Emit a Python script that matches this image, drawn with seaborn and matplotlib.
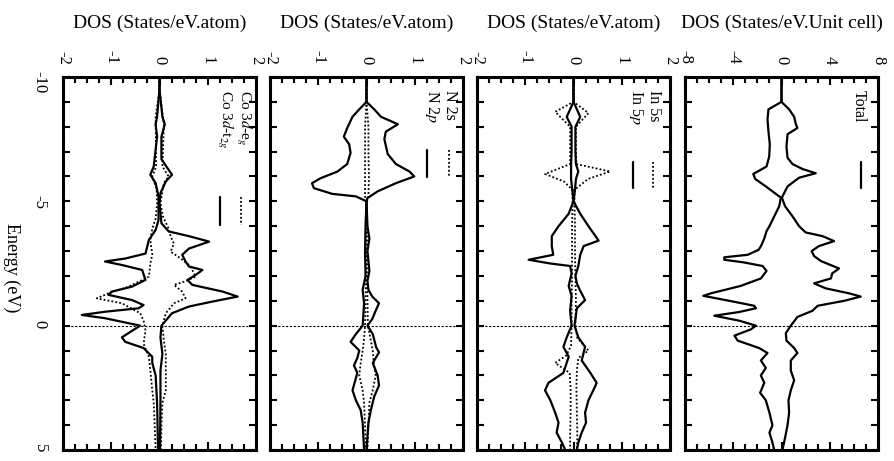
import numpy as np
import matplotlib
matplotlib.use('Agg')
import matplotlib.pyplot as plt
from matplotlib.ticker import MultipleLocator
import seaborn as sns

# ---- Total DOS (states/eV unit cell) ----
E_tot_up = [-10, -9.0, -8.7, -8.4, -8.1, -7.95, -7.7, -7.2, -6.75, -6.5, -6.3, -6.13, -5.95, -5.6, -5.15,
            -4.8, -4.4, -4.0, -3.75, -3.6, -3.4, -3.2, -3.0, -2.8, -2.6, -2.3, -2.1, -1.9, -1.7, -1.5,
            -1.3, -1.17, -1.0, -0.8, -0.6, -0.35, 0.0, 0.3, 0.6, 0.9, 1.1, 1.4, 1.8, 2.2, 2.6, 3.0, 3.5,
            4.0, 4.5, 5.0]
tot_up = [0, 0, 0.63, 1.05, 1.19, 1.32, 0.5, 0.41, 0.5, 0.91, 1.74, 2.84, 1.46, 0.5, 0.03,
          0.3, 0.91, 1.46, 2.0, 3.4, 4.36, 3.1, 2.5, 2.7, 3.26, 4.77, 4.2, 4.1, 2.7, 3.67,
          5.6, 6.57, 5.2, 3.0, 2.57, 1.32, 0.77, 0.36, 0.41, 1.05, 1.32, 0.77, 0.77, 1.05, 0.77, 0.58, 0.63,
          0.5, 0.3, 0.08]
E_tot_dn = [-10, -9, -8.7, -8.3, -7.8, -7.3, -6.8, -6.4, -6.1, -5.9, -5.6, -5.3, -5.15, -4.8, -4.4,
            -4.0, -3.8, -3.5, -3.2, -3.05, -2.85, -2.75, -2.65, -2.55, -2.4, -2.2, -1.9, -1.6, -1.3, -1.2,
            -1.0, -0.8, -0.7, -0.55, -0.4, -0.2, 0.0, 0.15, 0.4, 0.6, 0.9, 1.1, 1.4, 1.7, 2.0, 2.3, 2.7,
            3.0, 3.5, 4.0, 4.3, 4.7, 5.0]
tot_dn = [0, 0, -1.08, -1.16, -1.08, -0.97, -1.02, -1.24, -2.34, -2.18, -1.3, -0.47, -0.05, -0.19, -0.6,
          -1.0, -1.24, -1.43, -1.7, -1.9, -2.8, -4.74, -4.74, -3.2, -1.57, -1.24, -1.71, -3.37, -5.85, -6.48,
          -4.33, -2.26, -2.12, -3.5, -5.57, -3.5, -2.12, -2.54, -3.9, -3.64, -1.85, -1.16, -1.71, -1.3, -1.71,
          -1.43, -1.77, -1.3, -1.0, -0.75, -1.0, -0.75, -0.6]

# ---- In PDOS ----
E_in5s_up = [-10, -9, -8.55, -8.0, -7.5, -7.0, -6.5, -6.2, -5.9, -5.46, -5.0, -4.0, -3.0, -2.0, -1.0,
             0.0, 0.5, 1.0, 1.3, 1.8, 2.5, 3.5, 4.5, 5.0]
in5s_up = [0, 0, 0.31, 0.05, 0.05, 0.05, 0.06, 0.76, 0.3, 0.02, 0.02, 0.03, 0.03, 0.04, 0.05,
           0.04, 0.08, 0.31, 0.1, 0.07, 0.06, 0.07, 0.08, 0.07]
E_in5s_dn = [-10, -9, -8.6, -8.0, -7.5, -7.0, -6.5, -6.1, -5.8, -5.46, -5.0, -4.0, -3.0, -2.0, -1.0,
             0.0, 0.8, 1.2, 1.5, 1.9, 2.5, 3.5, 4.5, 5.0]
in5s_dn = [0, 0, -0.38, -0.07, -0.07, -0.07, -0.07, -0.59, -0.2, -0.02, -0.02, -0.03, -0.03, -0.03, -0.04,
           -0.04, -0.05, -0.15, -0.38, -0.08, -0.06, -0.06, -0.07, -0.07]
E_in5p_up = [-10, -9, -8.4, -8.0, -7.0, -6.5, -6.2, -5.9, -5.46, -5.0, -4.5, -4.0, -3.7, -3.42, -3.2,
             -2.85, -2.4, -2.0, -1.7, -1.4, -1.03, -0.7, 0.0, 0.47, 0.85, 1.4, 1.9, 2.3, 2.6, 3.0,
             3.5, 3.9, 4.3, 4.7, 5.0]
in5p_up = [0, 0, 0.14, 0.04, 0.04, 0.05, 0.1, 0.05, 0.03, 0.0, 0.14, 0.31, 0.42, 0.52, 0.21,
           0.14, 0.1, 0.04, 0.07, 0.14, 0.24, 0.07, 0.02, 0.1, 0.24, 0.17, 0.35, 0.48, 0.41, 0.31,
           0.24, 0.26, 0.17, 0.1, 0.07]
E_in5p_dn = [-10, -9, -8.4, -8.0, -7.0, -6.5, -5.9, -5.0, -4.5, -4.0, -3.6, -3.2, -2.85, -2.65, -2.5,
             -2.4, -2.1, -1.6, -1.2, -0.6, 0.0, 0.47, 0.85, 1.25, 1.9, 2.3, 2.6, 3.0, 3.5, 3.9,
             4.3, 4.7, 5.0]
in5p_dn = [0, 0, -0.14, -0.04, -0.04, -0.05, -0.05, 0.0, -0.1, -0.31, -0.45, -0.45, -0.42, -0.93, -0.48,
           -0.07, -0.04, -0.1, -0.04, -0.07, -0.04, -0.14, -0.21, -0.1, -0.21, -0.52, -0.59, -0.48, -0.38, -0.31,
           -0.35, -0.24, -0.17]

# ---- N PDOS ----
E_n2s = [-10, -9, -8, -7, -6, -5.2, -5, -4, -3, -2, -1, 0, 0.5, 1.0, 1.5, 2.0, 2.6, 3.1, 4.0, 5.0]
n2s_up = [0, 0, 0.04, 0.04, 0.05, 0.04, 0.01, 0.01, 0.01, 0.01, 0.02, 0.03, 0.08, 0.13, 0.15, 0.19,
          0.13, 0.06, 0.04, 0.02]
n2s_dn = [0, 0, -0.03, -0.03, -0.03, -0.03, -0.01, -0.01, -0.01, -0.01, -0.02, -0.03, -0.05, -0.08,
          -0.12, -0.15, -0.08, -0.05, -0.03, -0.02]
E_n2p_up = [-10, -9, -8.7, -8.4, -8.1, -7.8, -7.5, -6.9, -6.5, -6.2, -6.0, -5.73, -5.4, -5.13, -5.0,
            -4.0, -3.5, -3.0, -2.2, -1.8, -1.44, -1.17, -0.9, -0.6, -0.27, 0.0, 0.34, 0.87, 1.07, 1.5,
            2.0, 2.4, 2.85, 3.4, 3.9, 5.0]
n2p_up = [0, 0, 0.16, 0.3, 0.65, 0.4, 0.37, 0.44, 0.61, 0.89, 0.99, 0.61, 0.23, 0.02, 0.0,
          0.02, 0.06, 0.02, 0.06, 0.02, 0.04, 0.12, 0.26, 0.19, 0.12, 0.02, 0.13, 0.2, 0.26, 0.13,
          0.23, 0.26, 0.16, 0.09, 0.04, 0.0]
E_n2p_dn = [-10, -9, -8.7, -8.4, -7.95, -7.6, -7.3, -6.95, -6.5, -6.2, -5.93, -5.73, -5.53, -5.3, -5.2,
            -5.0, -4.0, -3.0, -2.0, -1.44, -0.9, 0.0, 0.34, 0.65, 1.0, 1.3, 1.6, 1.9, 2.6, 3.0,
            3.4, 3.9, 5.0]
n2p_dn = [0, 0, -0.15, -0.29, -0.4, -0.47, -0.36, -0.33, -0.4, -0.6, -0.95, -1.13, -1.09, -0.71, -0.22,
          0.0, -0.02, -0.03, -0.02, -0.08, -0.05, -0.08, -0.22, -0.33, -0.15, -0.19, -0.26, -0.19, -0.29, -0.22,
          -0.12, -0.08, -0.05]

# ---- Co 3d PDOS ----
E_t2g_up = [-10, -9.5, -8.4, -8.1, -7.6, -6.7, -6.35, -6.07, -5.8, -5.33, -4.93, -4.12, -3.79, -3.6, -3.38,
            -3.1, -2.85, -2.58, -2.38, -2.24, -2.04, -1.84, -1.64, -1.37, -1.17, -0.97, -0.77, -0.5, 0.0, 0.47,
            1.14, 1.8, 3.0, 5.0]
t2g_up = [0, 0, 0.06, 0.11, 0.04, 0.04, 0.16, 0.26, 0.13, 0.02, 0.0, 0.04, 0.19, 0.61, 1.03,
          0.61, 0.47, 0.54, 0.61, 0.89, 0.75, 0.58, 0.68, 1.31, 1.62, 1.1, 0.61, 0.26, 0.04, 0.02,
          0.06, 0.02, 0.02, 0.01]
E_t2g_dn = [-10, -9.5, -8.4, -8.1, -7.6, -6.4, -6.07, -5.73, -5.2, -4.25, -3.85, -3.45, -2.9, -2.7, -2.58,
            -2.44, -2.24, -1.84, -1.57, -1.37, -1.24, -1.03, -0.83, -0.7, -0.56, -0.43, -0.3, 0.0, 0.17, 0.47,
            0.65, 0.9, 1.25, 1.5, 2.0, 3.1, 5.0]
t2g_dn = [0, 0, -0.05, -0.08, -0.05, -0.12, -0.19, -0.08, -0.02, -0.02, -0.08, -0.22, -0.29, -0.71, -1.13,
          -0.78, -0.36, -0.29, -0.57, -0.99, -1.06, -0.57, -0.33, -0.43, -1.13, -1.61, -1.13, -0.4, -0.54, -0.78,
          -0.71, -0.33, -0.15, -0.15, -0.08, -0.05, -0.03]
E_eg_up = [-10, -9.5, -8.4, -8.1, -6.4, -6.0, -5.73, -4.93, -4.4, -3.9, -3.6, -3.3, -2.98, -2.7, -2.44,
           -2.24, -1.97, -1.77, -1.64, -1.37, -1.1, -0.9, -0.5, 0.0, 0.6, 1.14, 1.8, 2.6, 3.1, 4.0, 5.0]
eg_up = [0, 0, 0.07, 0.09, 0.06, 0.19, 0.09, 0.02, 0.07, 0.19, 0.23, 0.3, 0.23, 0.44, 0.61,
         0.68, 0.75, 0.51, 0.3, 0.47, 0.54, 0.3, 0.13, 0.06, 0.09, 0.13, 0.13, 0.13, 0.06, 0.04, 0.03]
E_eg_dn = [-10, -9.5, -8.4, -6.4, -6.0, -5.5, -4.93, -4.3, -3.9, -3.45, -2.85, -2.5, -1.97, -1.57, -1.3,
           -1.1, -0.9, -0.5, -0.2, 0.2, 0.73, 1.25, 1.8, 2.6, 3.1, 4.0, 5.0]
eg_dn = [0, 0, -0.08, -0.07, -0.15, -0.06, -0.05, -0.08, -0.15, -0.19, -0.15, -0.19, -0.22, -0.64, -1.06,
         -1.3, -0.78, -0.4, -0.33, -0.29, -0.33, -0.22, -0.19, -0.15, -0.12, -0.1, -0.08]

titles = ['DOS (States/eV.atom)', 'DOS (States/eV.atom)', 'DOS (States/eV.atom)', 'DOS (States/eV.Unit cell)']

sns.set_style('ticks')
plt.rcParams['font.family'] = ['Liberation Serif', 'DejaVu Serif']
plt.rcParams['mathtext.fontset'] = 'stix'
plt.rcParams['axes.unicode_minus'] = False
for k in ['axes.edgecolor', 'xtick.color', 'ytick.color', 'text.color', 'axes.labelcolor']:
    plt.rcParams[k] = 'black'

fig = plt.figure(figsize=(8.94, 4.61), dpi=100)
lefts = [63, 270, 477, 685]
axes = [fig.add_axes([l / 894, 11 / 461, 193 / 894, 373 / 461]) for l in lefts]

SOLID = dict(color='black', linewidth=1.6)
DOTTED = dict(color='black', linewidth=1.3, linestyle=(0, (1, 1.2)))


def curve(ax, e, v, style):
    sns.lineplot(x=v, y=e, orient='y', sort=False, estimator=None, ax=ax, **style)


def legend(ax, rows, ty, ly, size=11.5):
    # rotated key, reading top to bottom like the rest of the page
    for x_text, x_line, text, style in rows:
        ax.text(x_text, ty, text, transform=ax.transAxes, rotation=-90, ha='center', va='top', fontsize=size)
        ax.plot([x_line, x_line], ly, transform=ax.transAxes, **style)


def setup(ax, lim, major, minor, title):
    ax.set_xlim(-lim, lim)
    ax.set_ylim(5, -10)
    ax.set_xticks(major)
    ax.xaxis.set_minor_locator(MultipleLocator(minor))
    ax.set_yticks([-10, -5, 0, 5])
    ax.yaxis.set_minor_locator(MultipleLocator(1))
    ax.xaxis.tick_top()
    ax.xaxis.set_label_position('top')
    ax.tick_params(axis='x', which='both', direction='in', top=True, bottom=True,
                   labeltop=True, labelbottom=False, labelrotation=-90, labelsize=12, pad=9, width=1.5)
    ax.tick_params(axis='x', which='major', length=6)
    ax.tick_params(axis='x', which='minor', length=4)
    ax.tick_params(axis='y', which='both', direction='in', left=True, right=True,
                   labelleft=False, length=5, width=1.5)
    ax.set_xlabel(title, fontsize=14, labelpad=16)
    ax.set_ylabel('')
    ax.axhline(0, color='black', linewidth=0.8, linestyle=(0, (2, 1.5)))
    for s in ax.spines.values():
        s.set_linewidth(2.2)
        s.set_color('black')


ax_co, ax_n, ax_in, ax_tot = axes

curve(ax_co, E_eg_up, eg_up, DOTTED)
curve(ax_co, E_eg_dn, eg_dn, DOTTED)
curve(ax_co, E_t2g_up, t2g_up, SOLID)
curve(ax_co, E_t2g_dn, t2g_dn, SOLID)
setup(ax_co, 2, [-2, -1, 0, 1, 2], 0.25, titles[0])
legend(ax_co, [(0.937, 0.922, r'Co 3$d$-e$_g$', DOTTED),
               (0.84, 0.815, r'Co 3$d$-t$_{2g}$', SOLID)], 0.965, [0.678, 0.603], size=11)

curve(ax_n, E_n2s, n2s_up, DOTTED)
curve(ax_n, E_n2s, n2s_dn, DOTTED)
curve(ax_n, E_n2p_up, n2p_up, SOLID)
curve(ax_n, E_n2p_dn, n2p_dn, SOLID)
setup(ax_n, 2, [-2, -1, 0, 1, 2], 0.25, titles[1])
legend(ax_n, [(0.935, 0.926, 'N 2s', DOTTED),
              (0.84, 0.813, r'N 2$p$', SOLID)], 0.965, [0.804, 0.732])

curve(ax_in, E_in5s_up, in5s_up, DOTTED)
curve(ax_in, E_in5s_dn, in5s_dn, DOTTED)
curve(ax_in, E_in5p_up, in5p_up, SOLID)
curve(ax_in, E_in5p_dn, in5p_dn, SOLID)
setup(ax_in, 2, [-2, -1, 0, 1, 2], 0.25, titles[2])
legend(ax_in, [(0.915, 0.912, 'In 5s', DOTTED),
               (0.825, 0.81, r'In 5$p$', SOLID)], 0.965, [0.772, 0.702])

curve(ax_tot, E_tot_up, tot_up, SOLID)
curve(ax_tot, E_tot_dn, tot_dn, SOLID)
setup(ax_tot, 8, [-8, -4, 0, 4, 8], 1, titles[3])
legend(ax_tot, [(0.9, 0.91, 'Total', SOLID)], 0.965, [0.772, 0.702])

# energy axis labels only on the first panel
ax_co.tick_params(axis='y', which='major', labelleft=True, labelrotation=-90, labelsize=12, pad=11)
fig.text(12 / 894, 1 - 268 / 461, 'Energy (eV)', rotation=-90, ha='center', va='center', fontsize=13)

fig.savefig('out.png', dpi=100)
